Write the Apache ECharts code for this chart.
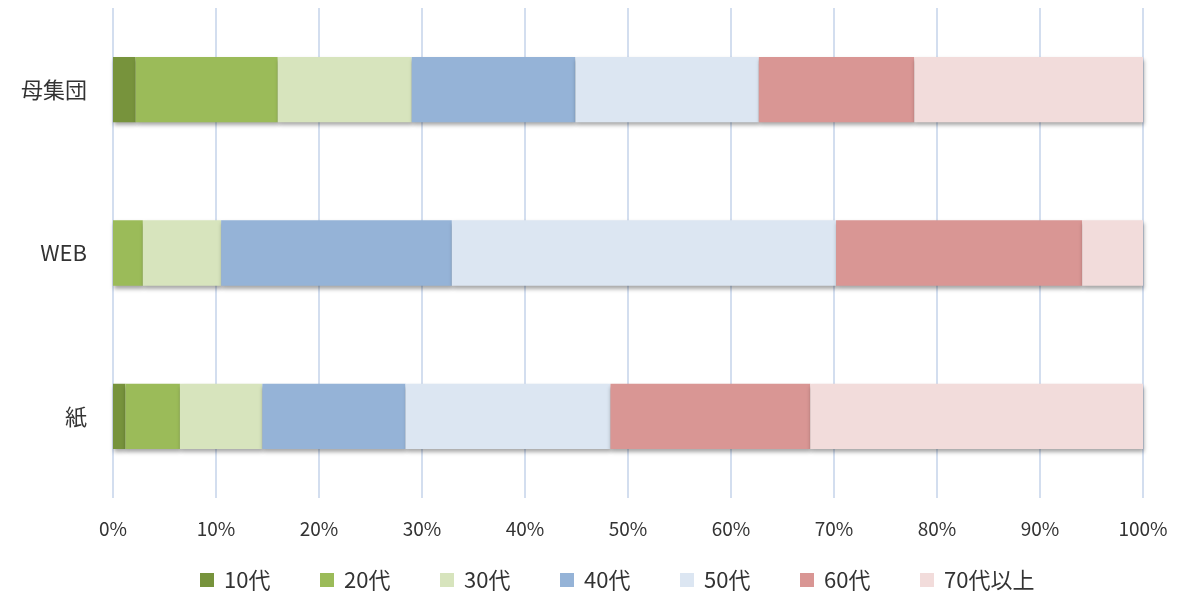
<!DOCTYPE html>
<html><head><meta charset="utf-8">
<script src="https://cdn.jsdelivr.net/npm/echarts@6/dist/echarts.min.js"></script>
<style>html,body{margin:0;padding:0;background:#fff}#c{width:1181px;height:601px}</style>
</head><body><div id="c"></div>
<script>
const categories = ['母集団', 'WEB', '紙'];
const seriesNames = ['10代', '20代', '30代', '40代', '50代', '60代', '70代以上'];
const s10 = [2.2, 0, 1.2];
const s20 = [13.8, 2.9, 5.3];
const s30 = [13.0, 7.6, 8.0];
const s40 = [15.9, 22.4, 13.9];
const s50 = [17.8, 37.3, 19.9];
const s60 = [15.1, 23.9, 19.4];
const s70 = [22.2, 5.9, 32.3];
const xTicks = [0, 10, 20, 30, 40, 50, 60, 70, 80, 90, 100];

const colors = ['#77933c', '#9bbb59', '#d7e4bd', '#95b3d7', '#dce6f2', '#d99694', '#f2dcdb'];
const values = [s10, s20, s30, s40, s50, s60, s70];
const font = '"Noto Sans CJK JP", "Noto Sans", sans-serif';

const chart = echarts.init(document.getElementById('c'));
chart.setOption({
  animation: false,
  color: colors,
  grid: { left: 113, right: 38, top: 8, bottom: 103, containLabel: false },
  xAxis: {
    type: 'value', min: xTicks[0], max: xTicks[xTicks.length - 1], interval: 10,
    axisLine: { show: false }, axisTick: { show: false },
    axisLabel: { formatter: '{value}%', color: '#333', fontSize: 19, fontFamily: font, margin: 21 },
    splitLine: { lineStyle: { color: '#d3deef', width: 2 } }
  },
  yAxis: {
    type: 'category', data: categories, inverse: true,
    axisLine: { show: false }, axisTick: { show: false },
    axisLabel: { color: '#333', fontSize: 22, fontFamily: font, margin: 26 }
  },
  legend: {
    top: 561, left: 195, itemWidth: 14, itemHeight: 14, itemGap: 40,
    icon: 'rect',
    textStyle: { color: '#333', fontSize: 22, fontFamily: font, lineHeight: 28, padding: [0, 0, 0, 5] },
    data: seriesNames.map(n => ({ name: n, textStyle: { width: n.length > 3 ? 120 : 56 } }))
  },
  series: seriesNames.map((n, i) => ({
    name: n, type: 'bar', stack: 'total', barWidth: '40%',
    data: values[i],
    itemStyle: {
      color: colors[i],
      shadowColor: 'rgba(0,0,0,0.35)', shadowBlur: 4, shadowOffsetY: 3, shadowOffsetX: 1
    }
  }))
});
</script></body></html>
